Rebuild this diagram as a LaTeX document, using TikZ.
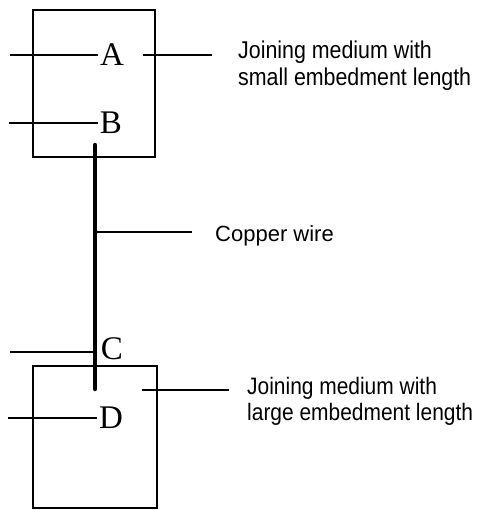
\documentclass[tikz,border=0pt]{standalone}
\usepackage{fontspec}
\setmainfont{Liberation Serif}
\newfontfamily\labfont[FakeStretch=0.88]{Liberation Sans}
\newfontfamily\wirefont{Liberation Sans}
\begin{document}
\begin{tikzpicture}[x=1pt,y=-1pt,
  box/.style={draw,line width=2pt,inner sep=0pt},
  letter/.style={font=\fontsize{33}{36}\selectfont,inner xsep=2pt,inner ysep=0pt},
  lead/.style={line width=1.5pt},
  wirestyle/.style={line width=4.5pt,line cap=round},
  desc/.style={font=\labfont\fontsize{24.3}{27}\selectfont,align=left,inner sep=0pt,anchor=north west},
  descb/.style={font=\labfont\fontsize{23.8}{26}\selectfont,align=left,inner sep=0pt,anchor=north west},
  small/.style={font=\wirefont\fontsize{22}{24}\selectfont,inner sep=0pt,anchor=base west}]
\useasboundingbox (0,0) rectangle (478,510);
% boxes
\node[box,minimum width=122pt,minimum height=147pt] (topbox) at (94,83.5) {};
\node[box,minimum width=124pt,minimum height=142pt] (botbox) at (95,437) {};
% letters
\node[letter] (A) at (112,55) {A};
\node[letter] (B) at (111,123) {B};
\node[letter] (C) at (112,349) {C};
\node[letter] (D) at (111,418) {D};
% descriptions
\node[desc] (tdesc) at (238,41) {Joining medium with\\small embedment length};
\node[small] (cdesc) at (215,241) {Copper wire};
\node[descb] (bdesc) at (247,377) {Joining medium with\\large embedment length};
% free ends
\coordinate (aL) at (10,55);
\coordinate (bL) at (9,123);
\coordinate (cL) at (10,352);
\coordinate (cR) at (95,352);
\coordinate (dL) at (8,418);
\coordinate (aR1) at (143,55);
\coordinate (aR2) at (212,55);
\coordinate (wTop) at (95,145);
\coordinate (wBot) at (95,389);
\coordinate (wMid) at (95,232);
\coordinate (wEnd) at (192,232);
\coordinate (dR1) at (142,390);
\coordinate (dR2) at (229,390);
% connectors
\draw[lead] (aL) -- (aL -| A.west);
\draw[lead] (bL) -- (bL -| B.west);
\draw[lead] (cL) -- (cR);
\draw[lead] (dL) -- (dL -| D.west);
\draw[lead] (aR1) -- (aR2);
\draw[lead] (dR1) -- (dR2);
\draw[wirestyle] (wTop) -- (wBot);
\draw[lead] (wMid) -- (wEnd);
\end{tikzpicture}
\end{document}
